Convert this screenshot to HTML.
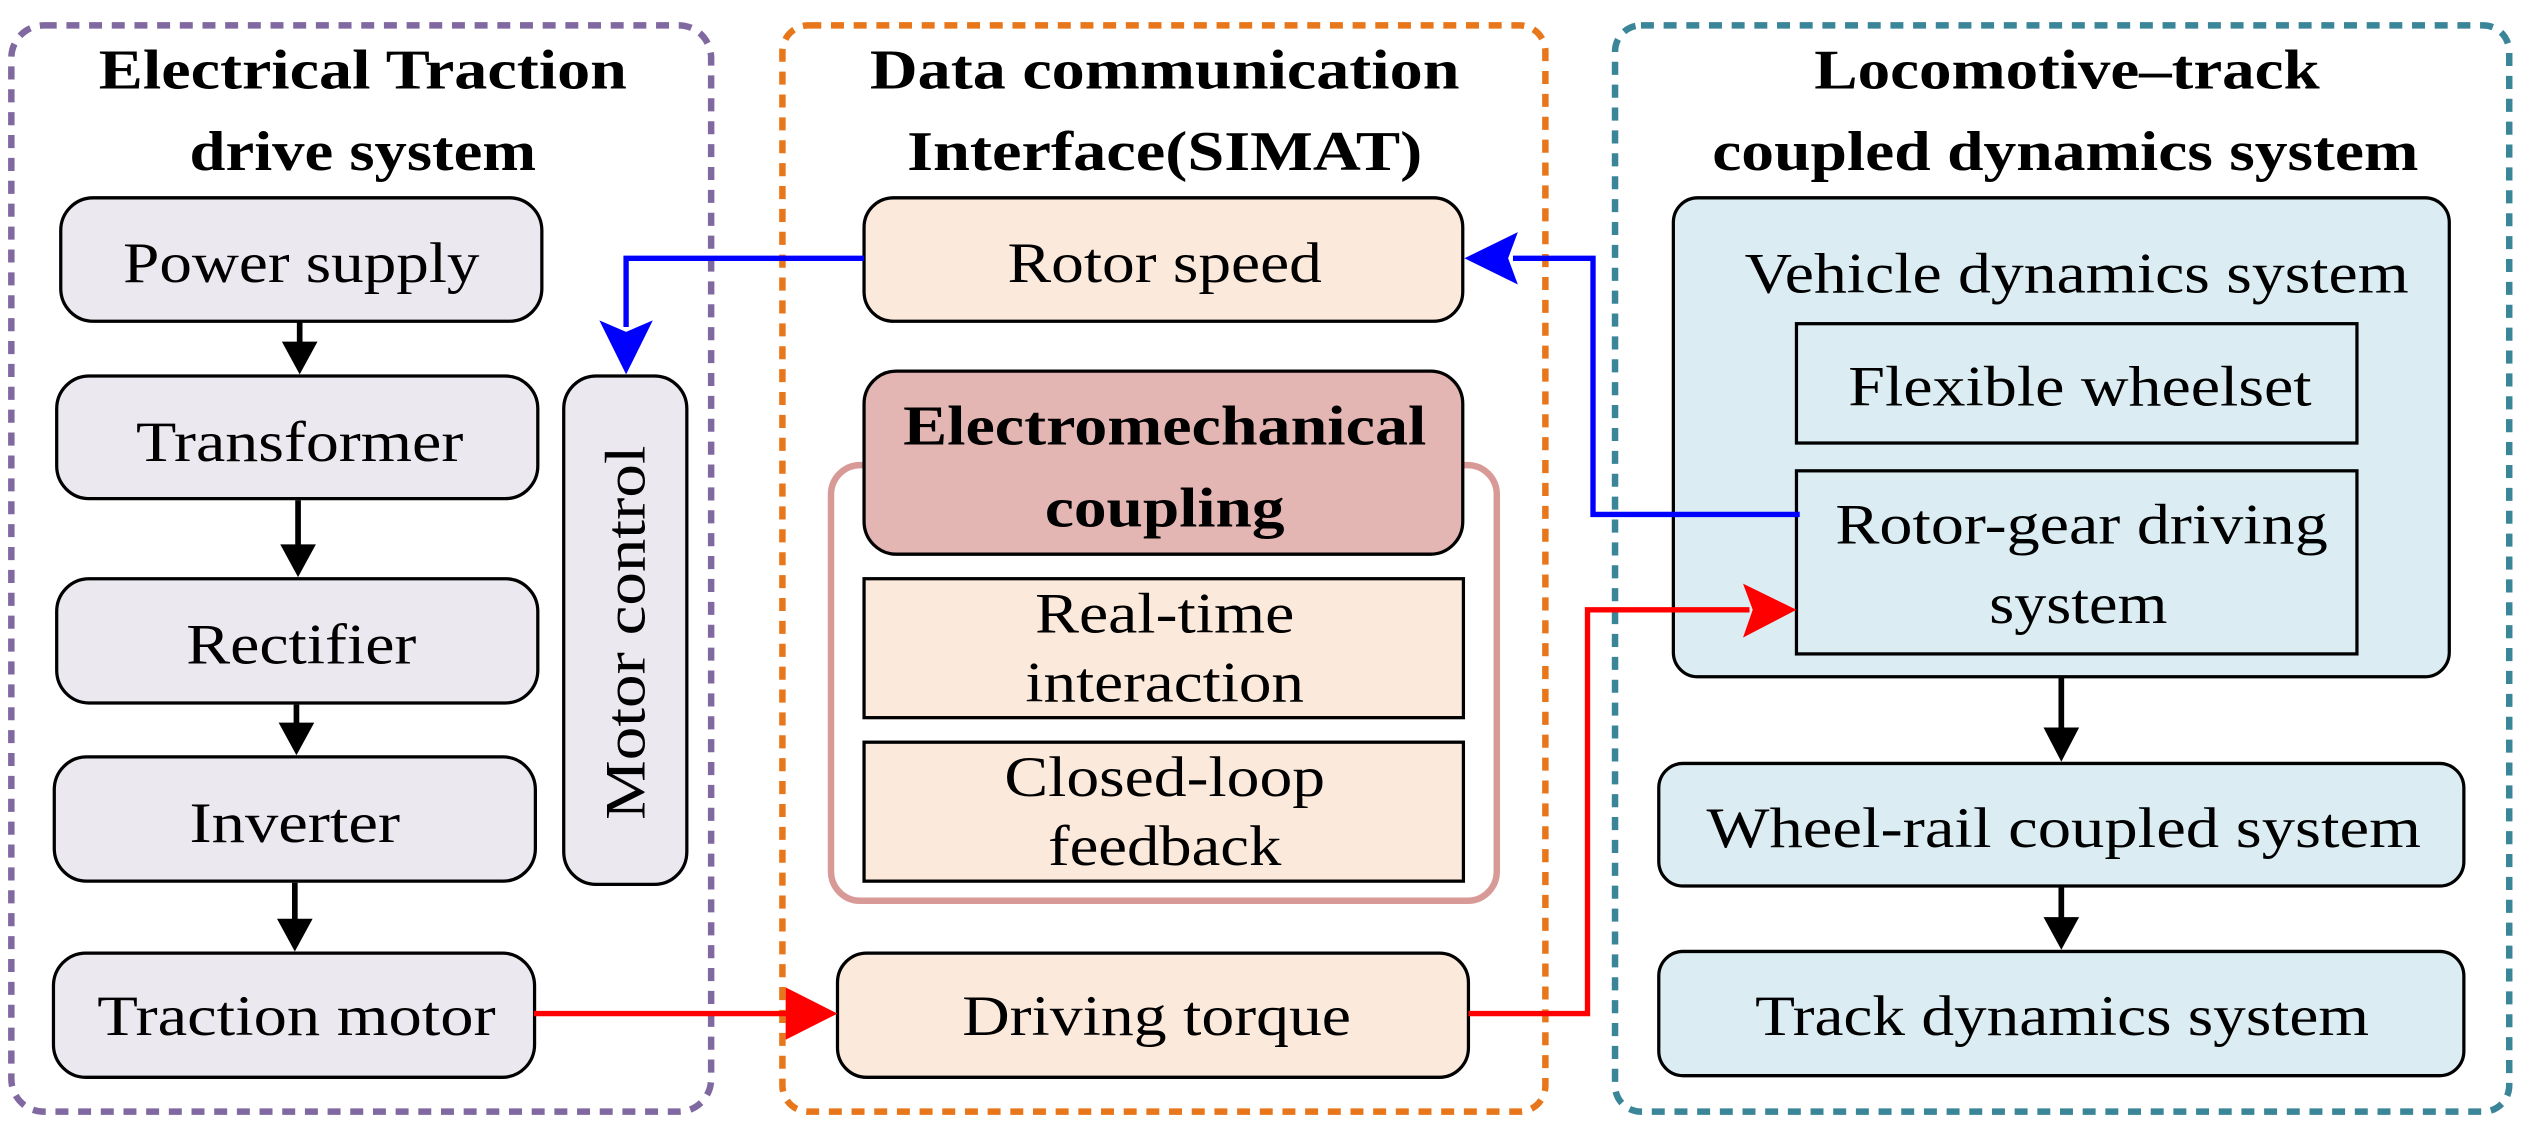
<!DOCTYPE html>
<html><head><meta charset="utf-8"><style>
html,body{margin:0;padding:0;background:#fff;}
svg{display:block;}
text{font-family:"Liberation Serif",serif;fill:#000;}
.t{font-weight:bold;font-size:34px;text-anchor:middle;}
.n{font-size:35px;text-anchor:middle;}
</style></head><body>
<svg width="2540" height="1128" viewBox="0 0 1568 690" preserveAspectRatio="none" xmlns="http://www.w3.org/2000/svg">
<!-- group frames -->
<rect x="7" y="15.5" width="432" height="664.5" rx="20" fill="none" stroke="#8068a0" stroke-width="4" stroke-dasharray="8 6"/>
<rect x="483" y="15.5" width="471" height="664.5" rx="16" fill="none" stroke="#e8761a" stroke-width="4" stroke-dasharray="8 6"/>
<rect x="997" y="15.5" width="552" height="664.5" rx="16" fill="none" stroke="#3a8598" stroke-width="4" stroke-dasharray="8 6"/>

<!-- titles -->
<text class="t" x="224" y="54" textLength="326" lengthAdjust="spacingAndGlyphs">Electrical Traction</text>
<text class="t" x="224" y="104" textLength="214" lengthAdjust="spacingAndGlyphs">drive system</text>
<text class="t" x="719" y="54" textLength="364" lengthAdjust="spacingAndGlyphs">Data communication</text>
<text class="t" x="719" y="104" textLength="318" lengthAdjust="spacingAndGlyphs">Interface(SIMAT)</text>
<text class="t" x="1276" y="54" textLength="312" lengthAdjust="spacingAndGlyphs">Locomotive–track</text>
<text class="t" x="1275" y="104" textLength="436" lengthAdjust="spacingAndGlyphs">coupled dynamics system</text>

<!-- left column -->
<g fill="#ebe8f0" stroke="#000" stroke-width="2">
<rect x="37.5" y="121" width="297" height="75.5" rx="20"/>
<rect x="35" y="230" width="297" height="75" rx="20"/>
<rect x="35" y="354" width="297" height="76" rx="20"/>
<rect x="33.5" y="463" width="297" height="76" rx="20"/>
<rect x="33" y="583" width="297" height="76" rx="20"/>
<rect x="348" y="230" width="76" height="311" rx="20"/>
</g>
<text class="n" x="186" y="172.5" textLength="220" lengthAdjust="spacingAndGlyphs">Power supply</text>
<text class="n" x="185" y="282" textLength="202" lengthAdjust="spacingAndGlyphs">Transformer</text>
<text class="n" x="186" y="406" textLength="142" lengthAdjust="spacingAndGlyphs">Rectifier</text>
<text class="n" x="182" y="515" textLength="130" lengthAdjust="spacingAndGlyphs">Inverter</text>
<text class="n" x="183" y="633" textLength="246" lengthAdjust="spacingAndGlyphs">Traction motor</text>
<text class="n" transform="translate(398,387) rotate(-90)" x="0" y="0" textLength="229" lengthAdjust="spacingAndGlyphs">Motor control</text>

<!-- black arrows -->
<g stroke="#000" stroke-width="3.5">
<line x1="185" y1="197" x2="185" y2="212"/>
<line x1="184" y1="306" x2="184" y2="336"/>
<line x1="183" y1="431" x2="183" y2="444"/>
<line x1="182" y1="540" x2="182" y2="564"/>
<line x1="1272.5" y1="414" x2="1272.5" y2="448"/>
<line x1="1272.5" y1="542" x2="1272.5" y2="564"/>
</g>
<g fill="#000">
<path d="M174,209 L196,209 L185,229 Z"/>
<path d="M173,333 L195,333 L184,353 Z"/>
<path d="M172,442 L194,442 L183,462 Z"/>
<path d="M171,562 L193,562 L182,582 Z"/>
<path d="M1261.5,445 L1283.5,445 L1272.5,466 Z"/>
<path d="M1261.5,561 L1283.5,561 L1272.5,581 Z"/>
</g>

<!-- middle -->
<rect x="513" y="284.5" width="411" height="266.5" rx="18" fill="none" stroke="#d89a96" stroke-width="4"/>
<g stroke="#000" stroke-width="2">
<rect x="533.4" y="121" width="369.6" height="75.5" rx="18" fill="#fbe9dc"/>
<rect x="533.4" y="227" width="369.6" height="112" rx="20" fill="#e3b6b4"/>
<rect x="533.4" y="354" width="370" height="85" fill="#fbe9dc"/>
<rect x="533.4" y="454" width="370" height="85" fill="#fbe9dc"/>
<rect x="517" y="583" width="389.5" height="76" rx="18" fill="#fbe9dc"/>
</g>
<text class="n" x="719" y="172.5" textLength="194" lengthAdjust="spacingAndGlyphs">Rotor speed</text>
<text class="t" x="719" y="272" textLength="323" lengthAdjust="spacingAndGlyphs">Electromechanical</text>
<text class="t" x="719" y="322" textLength="148" lengthAdjust="spacingAndGlyphs">coupling</text>
<text class="n" x="719" y="387" textLength="160" lengthAdjust="spacingAndGlyphs">Real-time</text>
<text class="n" x="719" y="429" textLength="172" lengthAdjust="spacingAndGlyphs">interaction</text>
<text class="n" x="719" y="487" textLength="198" lengthAdjust="spacingAndGlyphs">Closed-loop</text>
<text class="n" x="719" y="529" textLength="144" lengthAdjust="spacingAndGlyphs">feedback</text>
<text class="n" x="714" y="633" textLength="240" lengthAdjust="spacingAndGlyphs">Driving torque</text>

<!-- right -->
<g stroke="#000" stroke-width="2">
<rect x="1033" y="121" width="479" height="293" rx="15" fill="#dbedf2"/>
<rect x="1109" y="198" width="346" height="73" fill="#dbedf2"/>
<rect x="1109" y="288" width="346" height="112" fill="#dbedf2"/>
<rect x="1024" y="467" width="497" height="75" rx="15" fill="#dbedf2"/>
<rect x="1024" y="582" width="497" height="76" rx="15" fill="#dbedf2"/>
</g>
<text class="n" x="1282" y="179" textLength="410" lengthAdjust="spacingAndGlyphs">Vehicle dynamics system</text>
<text class="n" x="1284" y="248" textLength="286" lengthAdjust="spacingAndGlyphs">Flexible wheelset</text>
<text class="n" x="1285" y="332.5" textLength="304" lengthAdjust="spacingAndGlyphs">Rotor-gear driving</text>
<text class="n" x="1283" y="381" textLength="110" lengthAdjust="spacingAndGlyphs">system</text>
<text class="n" x="1274" y="518" textLength="441" lengthAdjust="spacingAndGlyphs">Wheel-rail coupled  system</text>
<text class="n" x="1273" y="633" textLength="379" lengthAdjust="spacingAndGlyphs">Track dynamics system</text>

<!-- blue connector -->
<polyline points="1111,314.7 983.4,314.7 983.4,158 934,158" fill="none" stroke="#0000ff" stroke-width="3.3"/>
<path d="M904,158 L937,142 L931,158 L937,174 Z" fill="#0000ff"/>
<polyline points="533.4,158 386.5,158 386.5,200" fill="none" stroke="#0000ff" stroke-width="3.3"/>
<path d="M386.5,229 L370,196 L386.5,203 L403,196 Z" fill="#0000ff"/>

<!-- red connectors -->
<polyline points="329.6,620 488,620" fill="none" stroke="#ff0000" stroke-width="3.3"/>
<path d="M517,620 L485,604 L485,636 Z" fill="#ff0000"/>
<polyline points="906.5,620 980,620 980,373 1080,373" fill="none" stroke="#ff0000" stroke-width="3.3"/>
<path d="M1109,373 L1076,357 L1082,373 L1076,390 Z" fill="#ff0000"/>
</svg>
</body></html>
